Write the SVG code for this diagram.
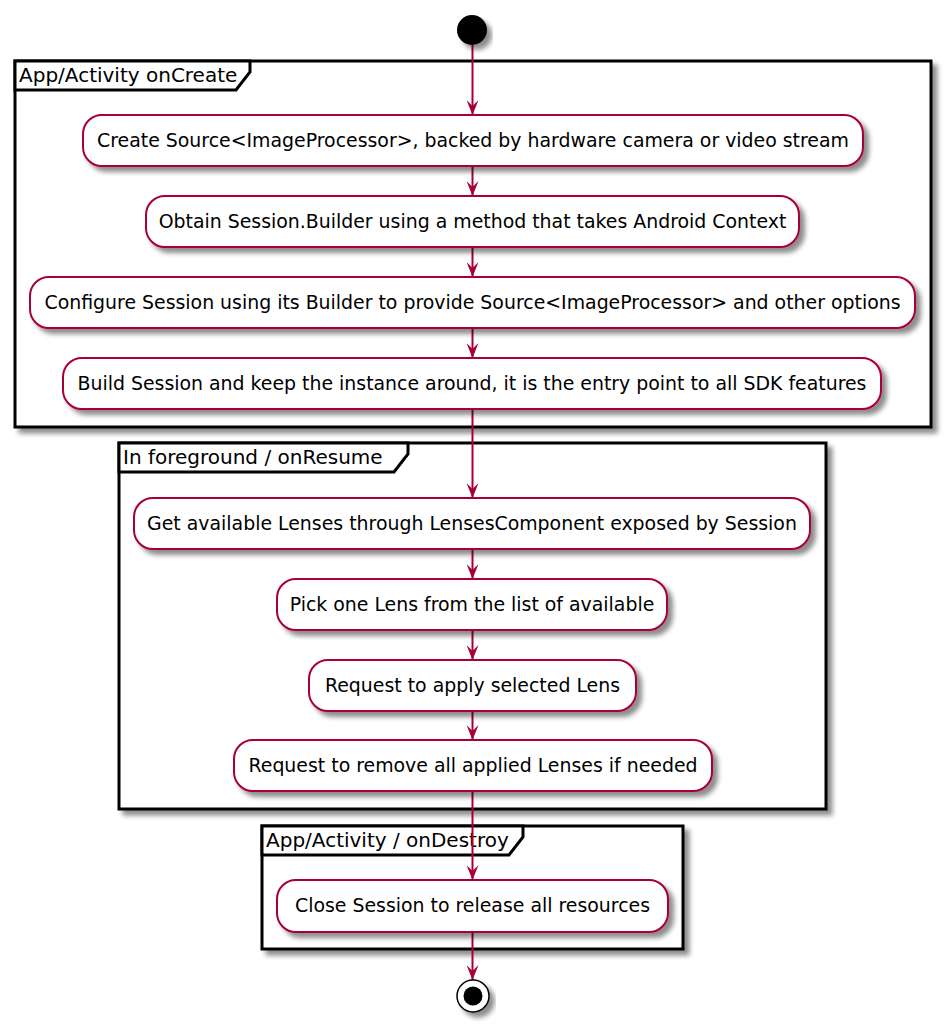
<svg xmlns="http://www.w3.org/2000/svg" width="945" height="1027" viewBox="0 0 945 1027">
<defs>
<filter id="sh" x="-10%" y="-10%" width="130%" height="150%">
<feGaussianBlur in="SourceAlpha" stdDeviation="2.5"/>
<feOffset dx="5" dy="5" result="b"/>
<feComponentTransfer><feFuncA type="linear" slope="0.45"/></feComponentTransfer>
<feMerge><feMergeNode/><feMergeNode in="SourceGraphic"/></feMerge>
</filter>
<marker id="ah" viewBox="0 0 15 12" refX="15" refY="6" markerWidth="15" markerHeight="12" markerUnits="userSpaceOnUse" orient="auto">
<path d="M0,0 L15,6 L0,12 L6,6 Z" fill="#A80036"/>
</marker>
</defs>
<style>
.ftab{fill:#fff;stroke:#000;stroke-width:3}
.ftitle{font-family:"DejaVu Sans",sans-serif;font-size:20px;fill:#000}
.act{fill:#fff;stroke:#A80036;stroke-width:2}
.txt{font-family:"DejaVu Sans",sans-serif;font-size:18.9px;fill:#000;text-anchor:middle}
.conn{stroke:#A80036;stroke-width:2;fill:none}
</style>
<rect width="945" height="1027" fill="#fff"/>

<g id="frame-oncreate">
<rect x="15" y="61" width="916" height="366" fill="#fff" stroke="#000" stroke-width="3" filter="url(#sh)"/>
<path class="ftab" d="M15,61 L250,61 L250,72 L236,90 L15,90 Z"/>
<text class="ftitle" x="19" y="82">App/Activity onCreate</text>
</g>
<g id="frame-onresume">
<rect x="119" y="443" width="707" height="366" fill="#fff" stroke="#000" stroke-width="3" filter="url(#sh)"/>
<path class="ftab" d="M119,443 L408,443 L408,454 L394,472 L119,472 Z"/>
<text class="ftitle" x="123" y="464">In foreground / onResume</text>
</g>
<g id="frame-ondestroy">
<rect x="262" y="826" width="421" height="123" fill="#fff" stroke="#000" stroke-width="3" filter="url(#sh)"/>
<path class="ftab" d="M262,826 L523,826 L523,837 L509,855 L262,855 Z"/>
<text class="ftitle" x="266" y="847">App/Activity / onDestroy</text>
</g>

<g id="connectors">
<line class="conn" x1="472.5" y1="45" x2="472.5" y2="115" marker-end="url(#ah)"/>
<line class="conn" x1="472.5" y1="166" x2="472.5" y2="196" marker-end="url(#ah)"/>
<line class="conn" x1="472.5" y1="247" x2="472.5" y2="277" marker-end="url(#ah)"/>
<line class="conn" x1="472.5" y1="328" x2="472.5" y2="358" marker-end="url(#ah)"/>
<line class="conn" x1="472.5" y1="409" x2="472.5" y2="498" marker-end="url(#ah)"/>
<line class="conn" x1="472.5" y1="549" x2="472.5" y2="579" marker-end="url(#ah)"/>
<line class="conn" x1="472.5" y1="630" x2="472.5" y2="660" marker-end="url(#ah)"/>
<line class="conn" x1="472.5" y1="711" x2="472.5" y2="740" marker-end="url(#ah)"/>
<line class="conn" x1="472.5" y1="791" x2="472.5" y2="880" marker-end="url(#ah)"/>
<line class="conn" x1="472.5" y1="932" x2="472.5" y2="980" marker-end="url(#ah)"/>
</g>

<g id="start"><circle cx="472" cy="30" r="15" fill="#000" filter="url(#sh)"/></g>

<g id="a1"><rect class="act" x="83" y="115" width="780" height="51" rx="19" filter="url(#sh)"/><text class="txt" x="473" y="147">Create Source&lt;ImageProcessor&gt;, backed by hardware camera or video stream</text></g>
<g id="a2"><rect class="act" x="146" y="196" width="653" height="51" rx="19" filter="url(#sh)"/><text class="txt" x="472.5" y="228">Obtain Session.Builder using a method that takes Android Context</text></g>
<g id="a3"><rect class="act" x="30" y="277" width="885" height="51" rx="19" filter="url(#sh)"/><text class="txt" x="472.5" y="309">Configure Session using its Builder to provide Source&lt;ImageProcessor&gt; and other options</text></g>
<g id="a4"><rect class="act" x="63" y="358" width="818" height="51" rx="19" filter="url(#sh)"/><text class="txt" x="472" y="390">Build Session and keep the instance around, it is the entry point to all SDK features</text></g>
<g id="a5"><rect class="act" x="134" y="498" width="676" height="51" rx="19" filter="url(#sh)"/><text class="txt" x="472" y="530">Get available Lenses through LensesComponent exposed by Session</text></g>
<g id="a6"><rect class="act" x="277" y="579" width="390" height="51" rx="19" filter="url(#sh)"/><text class="txt" x="472" y="611">Pick one Lens from the list of available</text></g>
<g id="a7"><rect class="act" x="309" y="660" width="327" height="51" rx="19" filter="url(#sh)"/><text class="txt" x="472.5" y="692">Request to apply selected Lens</text></g>
<g id="a8"><rect class="act" x="234" y="740" width="478" height="51" rx="19" filter="url(#sh)"/><text class="txt" x="473" y="772">Request to remove all applied Lenses if needed</text></g>
<g id="a9"><rect class="act" x="277" y="880" width="391" height="52" rx="19" filter="url(#sh)"/><text class="txt" x="472.5" y="912">Close Session to release all resources</text></g>

<g id="end">
<circle cx="473" cy="996" r="16" fill="#fff" stroke="#000" stroke-width="1.5" filter="url(#sh)"/>
<circle cx="473" cy="996" r="9.5" fill="#000"/>
</g>
</svg>
